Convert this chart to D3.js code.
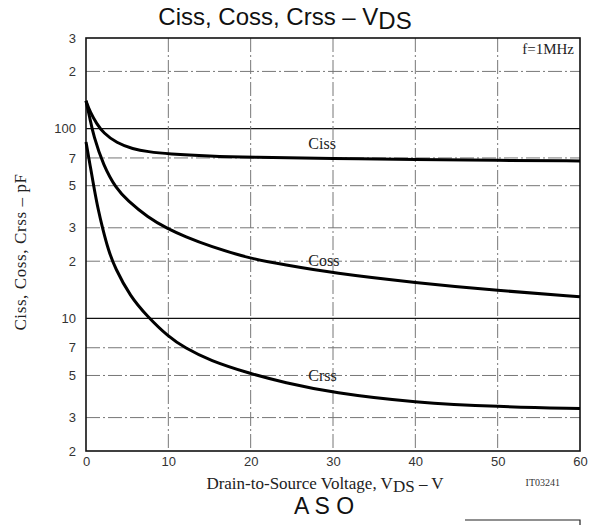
<!DOCTYPE html>
<html><head><meta charset="utf-8">
<script src="https://cdn.jsdelivr.net/npm/d3@7"></script>
<style>body{margin:0;background:#fff}svg{display:block}</style>
</head><body>
<svg id="c" width="597" height="525"></svg>
<script>
// ---- data ----
const xTicks = [0, 10, 20, 30, 40, 50, 60];
const yTicks = [2, 3, 5, 7, 10, 20, 30, 50, 70, 100, 200, 300];
const yTickLabels = ["2", "3", "5", "7", "10", "2", "3", "5", "7", "100", "2", "3"];
const majorY = [10, 100];

const cissV = [0, 0.5, 1.3, 2.1, 3.7, 5.7, 7.5, 10, 15, 20, 30, 40, 50, 60];
const cissC = [140, 122, 106, 95, 84, 78, 75.5, 73.5, 71.5, 70.5, 69.5, 68.7, 68, 67.5];

const cossV = [0, 0.5, 0.9, 2.1, 3.7, 5, 7.5, 10, 12, 15, 20, 24, 30, 40, 50, 60];
const cossC = [140, 112, 92, 64, 48, 42, 34, 29.5, 27, 24, 20.6, 19.2, 17.3, 15.4, 14, 13];

const crssV = [0, 0.5, 1, 1.5, 2, 2.7, 3.5, 5.4, 7.4, 10, 12, 15, 20, 24, 30, 40, 50, 60];
const crssC = [85, 64, 48, 37, 30, 23, 18.5, 13, 10.3, 8.0, 7.0, 6.0, 5.1, 4.6, 4.05, 3.6, 3.42, 3.35];

const seriesNames = ["Ciss", "Coss", "Crss"];
const labelPos = [[27, 78], [27, 18.8], [27, 4.65]];

// ---- layout ----
const svg = d3.select("#c");
const L = 86, R = 580, T = 38, B = 451;
const x = d3.scaleLinear().domain([0, 60]).range([L, R]);
const y = d3.scaleLog().domain([2, 300]).range([B, T]);

const serif = "'Liberation Serif','DejaVu Serif',serif";
const sans = "'Liberation Sans',Arial,sans-serif";

// gridlines
svg.append("g").selectAll("line").data(yTicks.filter(v => v > 2 && v < 300)).join("line")
  .attr("x1", L).attr("x2", R).attr("y1", d => y(d)).attr("y2", d => y(d))
  .attr("stroke", d => majorY.includes(d) ? "#111" : "#777")
  .attr("stroke-width", d => majorY.includes(d) ? 1.3 : 1)
  .attr("stroke-dasharray", d => majorY.includes(d) ? null : "14,3,2,3");
svg.append("g").selectAll("line").data(xTicks.filter(v => v > 0 && v < 60)).join("line")
  .attr("x1", d => x(d)).attr("x2", d => x(d)).attr("y1", T).attr("y2", B)
  .attr("stroke", "#777").attr("stroke-width", 1).attr("stroke-dasharray", "14,3,2,3");

// frame
svg.append("rect").attr("x", L).attr("y", T).attr("width", R - L).attr("height", B - T)
  .attr("fill", "none").attr("stroke", "#111").attr("stroke-width", 1.6);

// axes (labels only)
const yAxis = d3.axisLeft(y).tickValues(yTicks).tickSize(0).tickPadding(10)
  .tickFormat(d => yTickLabels[yTicks.indexOf(d)]);
const gy = svg.append("g").attr("transform", `translate(${L},0)`).call(yAxis);
gy.select(".domain").remove();
gy.selectAll("text").attr("font-family", sans).attr("font-size", 13).attr("fill", "#333");

const xAxis = d3.axisBottom(x).tickValues(xTicks).tickSize(0).tickPadding(6).tickFormat(d3.format("d"));
const gx = svg.append("g").attr("transform", `translate(0,${B})`).call(xAxis);
gx.select(".domain").remove();
gx.selectAll("text").attr("font-family", sans).attr("font-size", 13).attr("fill", "#333");

// curves
const line = d3.line().x(d => x(d[0])).y(d => y(d[1])).curve(d3.curveBasis);
const data = [
  d3.zip(cissV, cissC),
  d3.zip(cossV, cossC),
  d3.zip(crssV, crssC)
];
svg.append("g").selectAll("path").data(data).join("path")
  .attr("d", line).attr("fill", "none").attr("stroke", "#000").attr("stroke-width", 3);

// curve labels
svg.append("g").selectAll("text").data(seriesNames).join("text")
  .attr("x", (d, i) => x(labelPos[i][0]))
  .attr("y", (d, i) => y(labelPos[i][1]))
  .attr("font-family", serif).attr("font-size", 16).attr("fill", "#222")
  .text(d => d);

// f=1MHz
svg.append("text").attr("x", R - 6).attr("y", T + 16).attr("text-anchor", "end")
  .attr("font-family", serif).attr("font-size", 15).attr("fill", "#222").text("f=1MHz");

// title
const title = svg.append("text").attr("x", 285).attr("y", 25).attr("text-anchor", "middle")
  .attr("font-family", sans).attr("font-size", 24).attr("fill", "#111");
title.append("tspan").text("Ciss,  Coss,  Crss  \u2013  V");
title.append("tspan").attr("dy", 4).text("DS");

// y-axis title
svg.append("text").attr("transform", "translate(26,252) rotate(-90)")
  .attr("text-anchor", "middle").attr("font-family", serif).attr("font-size", 17)
  .attr("letter-spacing", 0.6).attr("fill", "#222")
  .text("Ciss, Coss, Crss  \u2013  pF");

// x-axis title
const xt = svg.append("text").attr("x", 325).attr("y", 489).attr("text-anchor", "middle")
  .attr("font-family", serif).attr("font-size", 17).attr("fill", "#222");
xt.append("tspan").text("Drain-to-Source Voltage, V");
xt.append("tspan").attr("dy", 3).text("DS");
xt.append("tspan").attr("dy", -3).text("  \u2013  V");

svg.append("text").attr("x", 560).attr("y", 486).attr("text-anchor", "end")
  .attr("font-family", serif).attr("font-size", 10).attr("fill", "#333").text("IT03241");

// ASO
svg.append("text").attr("x", 324).attr("y", 514).attr("text-anchor", "middle")
  .attr("font-family", sans).attr("font-size", 23).attr("fill", "#111").text("A S O");

// partial next-chart frame
svg.append("path").attr("d", `M${465},${520}H${580}V${525}`).attr("fill", "none")
  .attr("stroke", "#222").attr("stroke-width", 1.2);
</script>
</body></html>
